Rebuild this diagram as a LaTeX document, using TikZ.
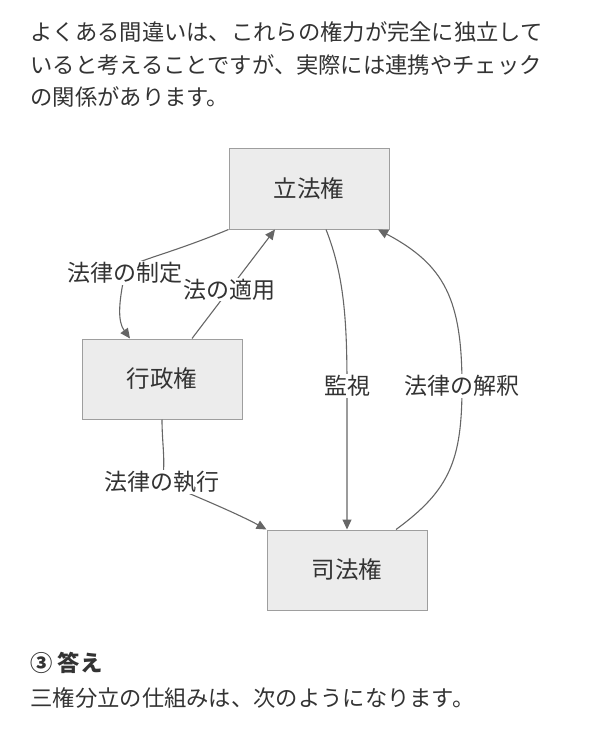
\documentclass[tikz,border=0pt]{standalone}
\usepackage{fontspec}
\setmainfont{Noto Sans CJK JP}
\usetikzlibrary{arrows.meta,positioning}
\definecolor{boxfill}{HTML}{ECECEC}
\definecolor{boxline}{HTML}{9E9E9E}
\definecolor{edgeline}{HTML}{666666}
\definecolor{inktext}{HTML}{333333}

\begin{document}
\begin{tikzpicture}[x=1pt,y=-1pt,->,>={Triangle[length=10pt,width=9pt]},
                    line width=1.1pt,
                    power/.style={rectangle,draw=boxline,fill=boxfill,line width=1pt,
                      minimum width=160pt,minimum height=80pt,
                      font=\fontsize{23.5}{27}\selectfont,text=inktext},
                    flow/.style={draw=edgeline},
                    lbl/.style={fill=white,inner sep=1pt,text=inktext,
                      font=\fontsize{23}{27}\selectfont},
                    prose/.style={anchor=west,inner sep=0pt,text=inktext,
                      font=\fontsize{22.3}{33}\selectfont}]

        \useasboundingbox (0,0) rectangle (595,735);

        \node[prose] (para1) at (30,32) {よくある間違いは、これらの権力が完全に独立して};
        \node[prose] (para2) at (30,65) {いると考えることですが、実際には連携やチェック};
        \node[prose] (para3) at (30,97) {の関係があります。};

        \node[power] (leg) at (309,189) {立法権};
        \node[power] (exe) at (162,379) {行政権};
        \node[power] (jud) at (347,570) {司法権};

        \draw[flow] (leg.south west) .. controls (160,258) and (125,262) .. (125,273)
              node[lbl] {法律の制定}
              .. controls (118,305) and (118,322) .. ([xshift=-32pt]exe.north);
        \draw[flow] ([xshift=30pt]exe.north) -- node[lbl,pos=0.45] {法の適用}
              ([xshift=-34pt]leg.south);
        \draw[flow] ([xshift=17pt]leg.south) .. controls (344,275) and (347,320) .. (347,386)
              node[lbl] {監視} -- (jud.north);
        \draw[flow] ([xshift=49pt]jud.north) .. controls (450,490) and (462,460) .. (462,386)
              node[lbl] {法律の解釈}
              .. controls (462,300) and (445,265) .. ([xshift=69pt]leg.south);
        \draw[flow] (exe.south) .. controls (162,445) and (166,462) .. (162,482)
              node[lbl] {法律の執行}
              .. controls (205,500) and (240,515) .. (jud.north west);

        \node[prose,font=\fontsize{22.3}{33}\selectfont\bfseries] (head) at (30,663) {③ 答え};
        \node[prose] (para4) at (30,698) {三権分立の仕組みは、次のようになります。};
      \end{tikzpicture}
\end{document}
